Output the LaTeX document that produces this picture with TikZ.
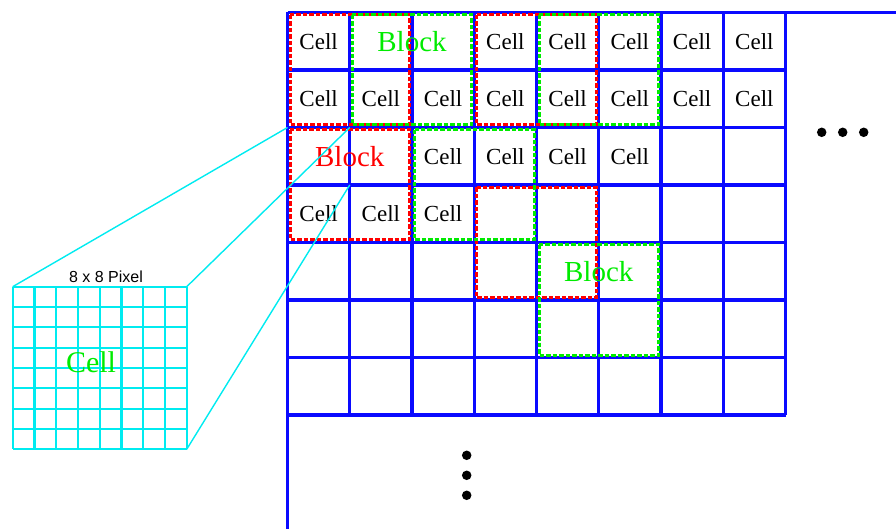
\documentclass[tikz,border=0pt]{standalone}
\usepackage{fontspec}
\setmainfont{Liberation Serif}
\newfontfamily\labelsans{Liberation Sans}
\definecolor{gridblue}{RGB}{10,10,255}
\definecolor{blockred}{RGB}{255,0,0}
\definecolor{blockgreen}{RGB}{0,235,0}
\definecolor{pixcyan}{RGB}{0,235,240}
\tikzset{
  gridline/.style={draw=gridblue, line width=3.1pt},
  redblock/.style={draw=blockred, line width=3pt, dash pattern=on 4.5pt off 2pt},
  greenblock/.style={draw=blockgreen, line width=3pt, dash pattern=on 4.5pt off 2pt},
  celltext/.style={inner sep=0pt, font=\fontsize{23}{23}\selectfont, text=black},
  blocktext/.style={inner sep=0pt, font=\fontsize{29}{29}\selectfont},
  pixline/.style={draw=pixcyan, line width=2.2pt},
  zoomline/.style={draw=pixcyan, line width=1.4pt},
  dot/.style={circle, fill=black, inner sep=0pt, minimum size=9.5pt}
}
\begin{document}
\begin{tikzpicture}[x=1pt,y=-1pt]
\useasboundingbox (0,0) rectangle (896,529);

% corner points of the cell grid: g-<column>-<row>
\foreach \i in {0,...,8}
  \foreach \j in {0,...,7}
    \coordinate (g-\i-\j) at ({287.5+62.25*\i},{12.5+57.5*\j});
\coordinate (topend) at (896,12.5);
\coordinate (leftend) at (287.5,529);

% blue cell grid
\foreach \i in {1,...,8}
  \draw[gridline] (g-\i-0) -- (g-\i-7);
\foreach \j in {1,...,7}
  \draw[gridline] (g-0-\j) -- (g-8-\j);
\draw[gridline] (g-0-0) -- (topend);
\draw[gridline] (g-0-0) -- (leftend);

% overlapping 2x2 blocks
\foreach \c/\r in {0/0, 3/0, 0/2, 3/3}{
  \pgfmathtruncatemacro{\cc}{\c+2}
  \pgfmathtruncatemacro{\rr}{\r+2}
  \draw[redblock] ([shift={(2.5,2.5)}]g-\c-\r) rectangle ([shift={(-2.5,-2.5)}]g-\cc-\rr);
}
\foreach \c/\r in {1/0, 4/0, 2/2, 4/4}{
  \pgfmathtruncatemacro{\cc}{\c+2}
  \pgfmathtruncatemacro{\rr}{\r+2}
  \draw[greenblock] ([shift={(2.5,2.5)}]g-\c-\r) rectangle ([shift={(-2.5,-2.5)}]g-\cc-\rr);
}

% cell labels
\foreach \r/\c in {0/0,0/3,0/4,0/5,0/6,0/7,
                   1/0,1/1,1/2,1/3,1/4,1/5,1/6,1/7,
                   2/2,2/3,2/4,2/5,
                   3/0,3/1,3/2}
  \node[celltext] (cell-\r-\c) at ({287.5+62.25*(\c+0.5)},{12.5+57.5*(\r+0.5)}) {Cell};

% block labels
\node[blocktext, text=blockgreen] (blockA) at ({287.5+62.25*2},{12.5+57.5*0.5}) {Block};
\node[blocktext, text=blockred]   (blockB) at ({287.5+62.25*1},{12.5+57.5*2.5}) {Block};
\node[blocktext, text=blockgreen] (blockC) at ({287.5+62.25*5},{12.5+57.5*4.5}) {Block};

% continuation dots
\node[dot] (hdot1) at (821.7,132.3) {};
\node[dot] (hdot2) at (842.7,132.3) {};
\node[dot] (hdot3) at (863.7,132.3) {};
\node[dot] (vdot1) at (466.7,455.3) {};
\node[dot] (vdot2) at (466.7,475.3) {};
\node[dot] (vdot3) at (466.7,495.3) {};

% enlarged 8x8 pixel cell
\foreach \k in {0,...,8}{
  \draw[pixline] ({12.7+21.75*\k},286.7) -- ({12.7+21.75*\k},449.3);
  \draw[pixline] (12.7,{286.7+20.33*\k}) -- (186.7,{286.7+20.33*\k});
}
\coordinate (pix-tl) at (12.7,286.7);
\coordinate (pix-tr) at (186.7,286.7);
\coordinate (pix-br) at (186.7,449.3);
\node[inner sep=0pt, anchor=base, font=\labelsans\fontsize{16}{16}\selectfont] (pixlabel) at (106,282.5) {8 x 8 Pixel};
\node[blocktext, font=\fontsize{30}{30}\selectfont, text=blockgreen] (pixcell) at (91,362) {Cell};

% zoom lines to the magnified cell
\draw[zoomline] (pix-tl) -- (g-0-2);
\draw[zoomline] (pix-tr) -- (g-1-2);
\draw[zoomline] (pix-br) -- (g-1-3);
\end{tikzpicture}
\end{document}
